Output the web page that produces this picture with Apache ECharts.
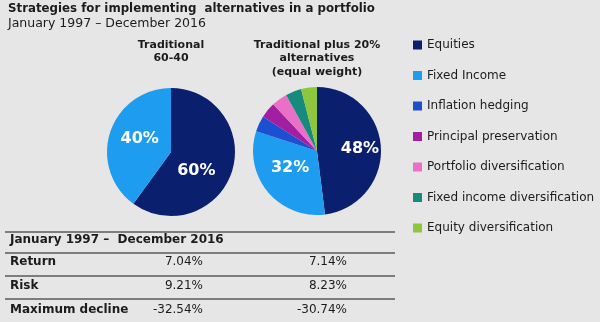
<!DOCTYPE html>
<html>
<head>
<meta charset="utf-8">
<script src="https://cdn.jsdelivr.net/npm/echarts@6/dist/echarts.min.js"></script>
<style>
  html, body { margin: 0; padding: 0; background: #e6e6e6; }
  #chart { width: 600px; height: 322px; }
</style>
</head>
<body>
<div id="chart"></div>
<script>
// Asset classes and their colours
const assetClasses = [
  'Equities',
  'Fixed Income',
  'Inflation hedging',
  'Principal preservation',
  'Portfolio diversification',
  'Fixed income diversification',
  'Equity diversification'
];
const assetColors = ['#0b1f6f', '#1e9cf0', '#1d4fd1', '#a11fa0', '#e870c6', '#168a7c', '#8ec63d'];

// Portfolio weights (%)
const traditionalWeights = [60, 40];
const alternativesWeights = [48, 32, 4, 4, 4, 4, 4];

// Pie headings
const traditionalHeading = 'Traditional\n60-40';
const alternativesHeading = 'Traditional plus 20%\nalternatives\n(equal weight)';

// Performance table
const periodLabel = 'January 1997 \u2013  December 2016';
const statLabels = ['Return', 'Risk', 'Maximum decline'];
const traditionalStats = ['7.04%', '9.21%', '-32.54%'];
const alternativesStats = ['7.14%', '8.23%', '-30.74%'];

const FONT = '"DejaVu Sans", Verdana, sans-serif';
const INK = '#1c1c1c';

function pieData(weights) {
  return weights.map((v, i) => ({
    name: assetClasses[i],
    value: v,
    itemStyle: { color: assetColors[i] },
    label: { show: i < 2 }
  }));
}

function pieSeries(weights, center, nudges) {
  return {
    type: 'pie',
    center: center,
    radius: 64,
    startAngle: 90,
    clockwise: true,
    silent: true,
    data: pieData(weights),
    label: {
      position: 'inside',
      formatter: '{c}%',
      color: '#ffffff',
      fontFamily: FONT,
      fontWeight: 'bold',
      fontSize: 16
    },
    labelLine: { show: false },
    labelLayout: function (p) {
      const n = nudges[p.dataIndex] || [0, 0];
      return { dx: n[0], dy: n[1] };
    },
    itemStyle: { borderWidth: 0 },
    emphasis: { disabled: true }
  };
}

// Table graphics: rule lines, row labels and two value columns
const tableLeft = 5, tableRight = 395;
const ruleYs = [232, 253, 276, 299];
const rowYs = [262, 286, 310];
const colRight = [203, 347];

const graphics = [];
ruleYs.forEach(y => {
  graphics.push({
    type: 'line',
    shape: { x1: tableLeft, y1: y, x2: tableRight, y2: y },
    style: { stroke: '#7d7d7d', lineWidth: 2 },
    silent: true
  });
});
graphics.push({
  type: 'text', left: 10, top: 234,
  style: { text: periodLabel, font: 'bold 12px ' + FONT, fill: INK }
});
statLabels.forEach((lab, i) => {
  graphics.push({
    type: 'text', x: 10, y: rowYs[i],
    style: { text: lab, font: 'bold 12px ' + FONT, fill: INK, verticalAlign: 'middle' }
  });
  graphics.push({
    type: 'text', x: colRight[0], y: rowYs[i],
    style: { text: traditionalStats[i], font: '12px ' + FONT, fill: INK, align: 'right', verticalAlign: 'middle' }
  });
  graphics.push({
    type: 'text', x: colRight[1], y: rowYs[i],
    style: { text: alternativesStats[i], font: '12px ' + FONT, fill: INK, align: 'right', verticalAlign: 'middle' }
  });
});
// Pie headings
graphics.push({
  type: 'text', x: 171, y: 38,
  style: { text: traditionalHeading, font: 'bold 11px ' + FONT, fill: INK, align: 'center', lineHeight: 13.5 }
});
graphics.push({
  type: 'text', x: 317, y: 38,
  style: { text: alternativesHeading, font: 'bold 11px ' + FONT, fill: INK, align: 'center', lineHeight: 13.5 }
});

const chart = echarts.init(document.getElementById('chart'), null, { renderer: 'canvas' });
chart.setOption({
  animation: false,
  backgroundColor: '#e6e6e6',
  title: {
    text: 'Strategies for implementing  alternatives in a portfolio',
    subtext: 'January 1997 \u2013 December 2016',
    left: 8,
    top: 2,
    padding: 0,
    itemGap: 1,
    textStyle: { fontFamily: FONT, fontSize: 11.8, fontWeight: 'bold', color: INK, lineHeight: 14 },
    subtextStyle: { fontFamily: FONT, fontSize: 12.5, color: INK, lineHeight: 14 }
  },
  legend: {
    orient: 'vertical',
    left: 413,
    top: 38,
    padding: 0,
    icon: 'rect',
    itemWidth: 9,
    itemHeight: 9,
    itemGap: 16.5,
    selectedMode: false,
    data: assetClasses,
    textStyle: { fontFamily: FONT, fontSize: 12, color: INK, lineHeight: 14 }
  },
  series: [
    pieSeries(traditionalWeights, [171, 152], [[-8, 8], [2, -2]]),
    pieSeries(alternativesWeights, [317, 151], [[8, 0], [0, -5]])
  ],
  graphic: graphics
});
</script>
</body>
</html>
